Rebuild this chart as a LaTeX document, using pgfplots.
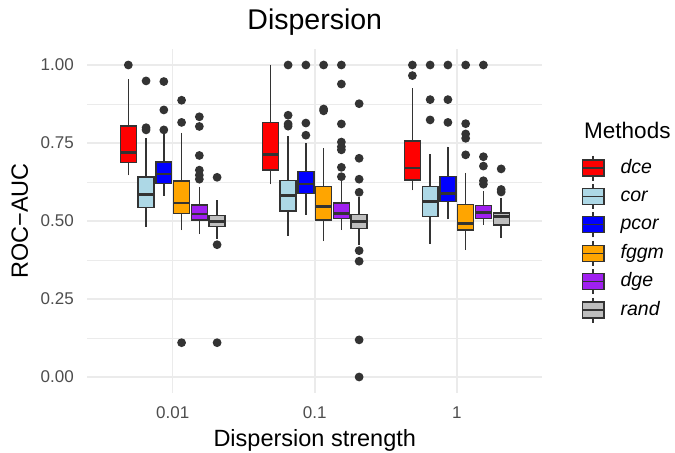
\documentclass[border=0pt]{standalone}
\usepackage{pgfplots}
\pgfplotsset{compat=1.18}
\usepgfplotslibrary{statistics}
\usepackage{fontspec}
\setmainfont{Liberation Sans}

\definecolor{cdce}{HTML}{FF0000}
\definecolor{ccor}{HTML}{ADD8E6}
\definecolor{cpcor}{HTML}{0000FF}
\definecolor{cfggm}{HTML}{FFA500}
\definecolor{cdge}{HTML}{A020F0}
\definecolor{crand}{HTML}{BEBEBE}
\definecolor{edge}{HTML}{333333}
\definecolor{gridc}{HTML}{EBEBEB}
\definecolor{ticktext}{HTML}{4D4D4D}

% legend key: a small box with whisker stubs and a median bar
\newcommand{\keyimg}[1]{%
  \draw[draw=edge, line width=1.3bp] (10.8bp,-12.5bp) -- (10.8bp,12.5bp);
  \filldraw[fill=#1, draw=edge, line width=1.3bp] (0bp,-8bp) rectangle (21.6bp,8bp);
  \draw[draw=edge, line width=1.3bp] (0bp,0bp) -- (21.6bp,0bp);
  \path[draw=none, fill=none] (0bp,0bp) -- (38.3bp,0bp);}

\pgfplotsset{
  bx/.style={
    fill=#1, draw=edge, line width=1.3bp,
    mark=*, mark size=3.7bp, mark options={draw=none, fill=edge},
    legend image code/.code={\keyimg{#1}},
    boxplot/draw direction=y,
    boxplot/whisker extend=0,
    boxplot/box extend=0.1125,
  },
}

% one prepared box: colour, position, lower whisker, lower quartile, median,
% upper quartile, upper whisker, outliers, extra options
\newcommand{\bx}[9]{%
  \addplot[bx=#1, #9, boxplot prepared={draw position=#2, lower whisker=#3,
    lower quartile=#4, median=#5, upper quartile=#6, upper whisker=#7}]
    coordinates {#8};}

\begin{document}
\begin{tikzpicture}
\begin{axis}[
  scale only axis, width=454.5bp, height=343.2bp,
  xmin=0.4, xmax=3.6, ymin=-0.05, ymax=1.05,
  xtick={1,2,3}, xticklabels={0.01,0.1,1},
  ytick={0,0.25,0.5,0.75,1}, minor ytick={0.125,0.375,0.625,0.875},
  /pgf/number format/assume math mode=true,
  y tick label style={/pgf/number format/fixed, /pgf/number format/fixed zerofill,
    /pgf/number format/precision=2, anchor=east, xshift=-13.5bp},
  grid=both,
  major grid style={draw=gridc, line width=1.5bp},
  minor grid style={draw=gridc, line width=0.8bp},
  axis line style={draw=none}, major tick length=0pt, minor tick length=0pt,
  tick label style={font=\fontsize{17bp}{20bp}\selectfont, text=ticktext, inner sep=0pt},
  x tick label style={anchor=north, yshift=-14bp},
  boxplot/every box/.style={draw=edge, line width=1.3bp},
  boxplot/every whisker/.style={draw=edge, line width=1.6bp},
  boxplot/every median/.style={draw=edge, line width=2.6bp},
  legend style={at={(1.0873,0.6958)}, anchor=north west, draw=none, fill=none,
    inner sep=0pt, outer sep=0pt, row sep=0pt, column sep=0pt,
    font=\fontsize{19.5bp}{23bp}\selectfont\itshape,
    nodes={inner sep=0pt, text height=19.2bp, text depth=9.2bp}},
  legend cell align=left,
]
% dce
\bx{cdce}{0.6875}{0.646}{0.688}{0.720}{0.804}{0.955}{(0,1.0)}{}
\addlegendentry{dce}
\bx{cdce}{1.6875}{0.617}{0.663}{0.713}{0.816}{1.000}{}{forget plot}
\bx{cdce}{2.6875}{0.598}{0.631}{0.670}{0.756}{0.925}{(0,1.0) (0,0.966)}{forget plot}
% cor
\bx{ccor}{0.8125}{0.482}{0.544}{0.585}{0.641}{0.767}{(0,0.949) (0,0.799) (0,0.792)}{}
\addlegendentry{cor}
\bx{ccor}{1.8125}{0.452}{0.532}{0.582}{0.630}{0.772}{(0,1.0) (0,0.839) (0,0.811) (0,0.804)}{forget plot}
\bx{ccor}{2.8125}{0.425}{0.514}{0.563}{0.610}{0.715}{(0,1.0) (0,0.889) (0,0.824)}{forget plot}
% pcor
\bx{cpcor}{0.9375}{0.581}{0.621}{0.650}{0.689}{0.781}{(0,0.947) (0,0.856) (0,0.792)}{}
\addlegendentry{pcor}
\bx{cpcor}{1.9375}{0.520}{0.588}{0.618}{0.659}{0.750}{(0,1.0) (0,0.814) (0,0.775)}{forget plot}
\bx{cpcor}{2.9375}{0.505}{0.562}{0.588}{0.642}{0.738}{(0,1.0) (0,0.889) (0,0.816)}{forget plot}
% fggm
\bx{cfggm}{1.0625}{0.470}{0.523}{0.558}{0.628}{0.783}{(0,0.887) (0,0.816) (0,0.110)}{}
\addlegendentry{fggm}
\bx{cfggm}{2.0625}{0.435}{0.503}{0.546}{0.610}{0.733}{(0,1.0) (0,0.859) (0,0.853)}{forget plot}
\bx{cfggm}{3.0625}{0.407}{0.471}{0.492}{0.553}{0.655}{(0,1.0) (0,0.812) (0,0.779) (0,0.765) (0,0.712)}{forget plot}
% dge
\bx{cdge}{1.1875}{0.458}{0.503}{0.522}{0.551}{0.610}{(0,0.834) (0,0.803) (0,0.710) (0,0.663) (0,0.647) (0,0.634)}{}
\addlegendentry{dge}
\bx{cdge}{2.1875}{0.471}{0.507}{0.524}{0.558}{0.628}{(0,1.0) (0,0.939) (0,0.811) (0,0.753) (0,0.738) (0,0.728) (0,0.672) (0,0.642)}{forget plot}
\bx{cdge}{3.1875}{0.488}{0.509}{0.528}{0.549}{0.595}{(0,1.0) (0,0.706) (0,0.676) (0,0.629) (0,0.618)}{forget plot}
% rand
\bx{crand}{1.3125}{0.441}{0.483}{0.498}{0.517}{0.566}{(0,0.640) (0,0.424) (0,0.110)}{}
\addlegendentry{rand}
\bx{crand}{2.3125}{0.423}{0.476}{0.498}{0.520}{0.578}{(0,0.876) (0,0.701) (0,0.634) (0,0.592) (0,0.405) (0,0.371) (0,0.119) (0,0.0)}{forget plot}
\bx{crand}{3.3125}{0.444}{0.487}{0.514}{0.526}{0.575}{(0,0.667) (0,0.601) (0,0.593)}{forget plot}
\end{axis}
% titles
\node[anchor=base, font=\fontsize{28.5bp}{32bp}\selectfont] at (227.25bp,363.3bp) {Dispersion};
\node[anchor=base, font=\fontsize{23.5bp}{27bp}\selectfont] at (227.25bp,-53.4bp) {Dispersion strength};
\node[anchor=base, rotate=90, font=\fontsize{23.5bp}{27bp}\selectfont] at (-59.5bp,171.6bp) {ROC−AUC};
\node[anchor=base west, font=\fontsize{22.5bp}{26bp}\selectfont] at (493.2bp,254.3bp) {Methods};
\pgfresetboundingbox
\useasboundingbox (-87.5bp,-60.4bp) rectangle (587.5bp,392.6bp);
\end{tikzpicture}
\end{document}
